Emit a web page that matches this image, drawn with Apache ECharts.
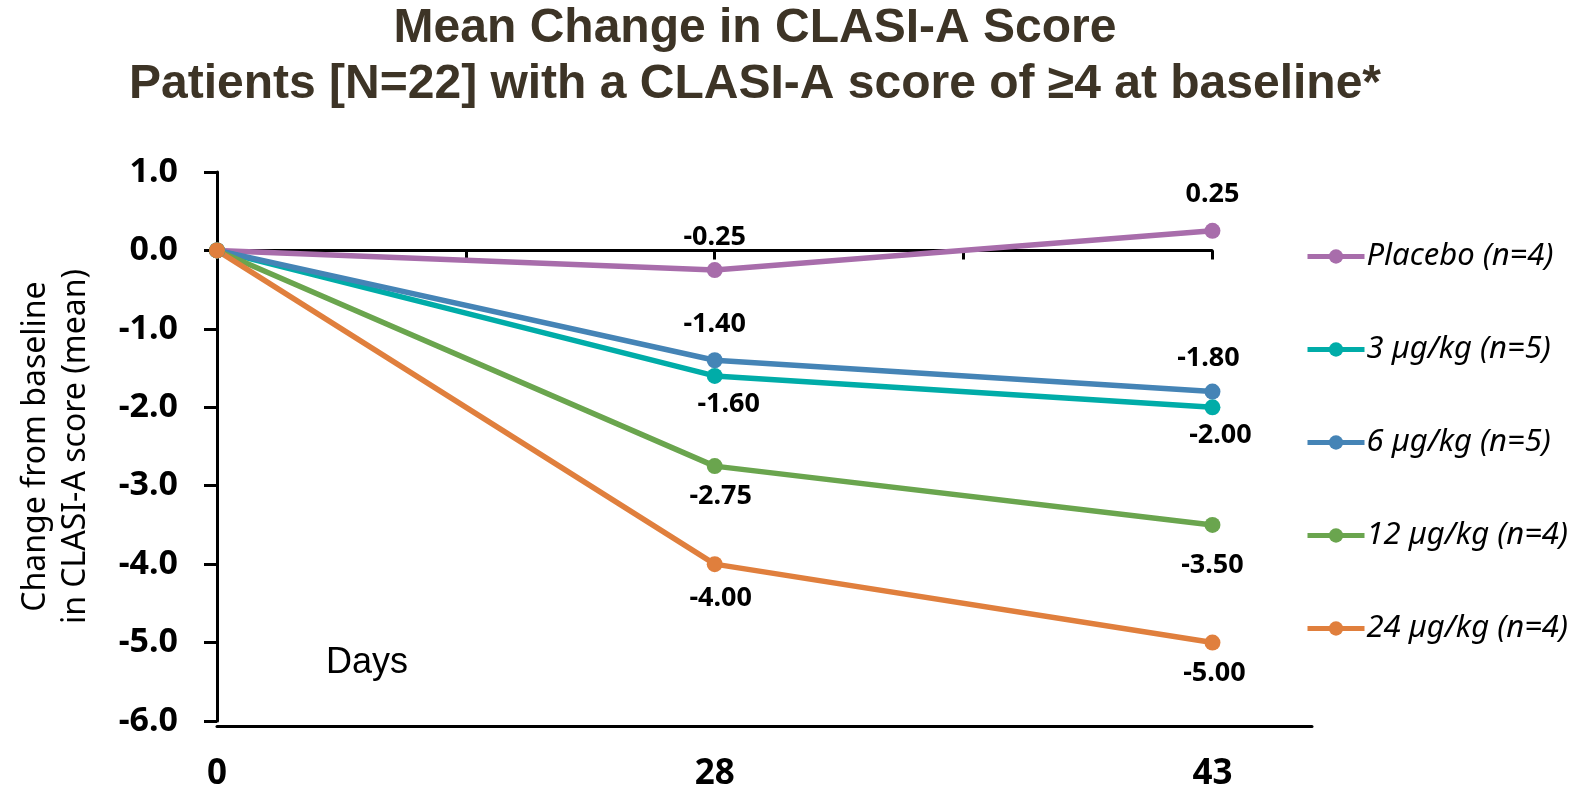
<!DOCTYPE html>
<html>
<head>
<meta charset="utf-8">
<script src="https://cdn.jsdelivr.net/npm/echarts@6/dist/echarts.min.js"></script>
<style>
html,body{margin:0;padding:0;background:#fff;}
#chart{width:1576px;height:793px;}
</style>
</head>
<body>
<div id="chart"></div>
<script>
// ---- data ----
const dayLabels = ['0', '28', '43'];
const seriesNames = ['Placebo (n=4)', '3 \u00b5g/kg (n=5)', '6 \u00b5g/kg (n=5)', '12 \u00b5g/kg (n=4)', '24 \u00b5g/kg (n=4)'];
const placebo = [0, -0.25, 0.25];
const dose3 = [0, -1.60, -2.00];
const dose6 = [0, -1.40, -1.80];
const dose12 = [0, -2.75, -3.50];
const dose24 = [0, -4.00, -5.00];
const yTicks = [-6, -5, -4, -3, -2, -1, 0, 1];

// ---- styling ----
const colors = ['#a86dab', '#00aca8', '#4584b6', '#6aa54e', '#e07f3d'];
const labelPos = [
  ['top', 'top'],
  ['bottom', 'bottom'],
  ['top', 'top'],
  ['bottom', 'bottom'],
  ['bottom', 'bottom']
];
const labelDist = [
  [11, 15],
  [7, 7],
  [14, 12],
  [9, 19],
  [13, 9]
];
const labelShiftX = [
  [0, 0],
  [14, 8],
  [0, -4],
  [6, 0],
  [6, 2]
];
const allValues = [placebo, dose3, dose6, dose12, dose24];

const chart = echarts.init(document.getElementById('chart'));

const series = allValues.map((vals, si) => ({
  name: seriesNames[si],
  type: 'line',
  xAxisIndex: 0,
  yAxisIndex: 0,
  data: vals.map((v, i) => ({
    value: [i, v],
    label: {
      show: i > 0,
      position: labelPos[si][i - 1] || 'top',
      distance: labelDist[si][i - 1] || 10,
      offset: [labelShiftX[si][i - 1] || 0, 0]
    }
  })),
  symbol: 'circle',
  symbolSize: 16,
  lineStyle: { width: 5.5, color: colors[si] },
  itemStyle: { color: colors[si] },
  label: {
    fontFamily: 'Noto Sans',
    fontWeight: 'bold',
    fontSize: 27,
    color: '#000',
    formatter: p => p.value[1].toFixed(2)
  },
  emphasis: { disabled: true },
  z: 3
}));

const option = {
  backgroundColor: '#fff',
  animation: false,
  title: {
    text: 'Mean Change in CLASI-A Score\nPatients [N=22] with a CLASI-A score of \u22654 at baseline*',
    left: 750,
    top: -4,
    textAlign: 'center',
    textStyle: {
      fontFamily: 'Liberation Sans',
      fontWeight: 'bold',
      fontSize: 48,
      lineHeight: 56,
      color: '#3d3426'
    }
  },
  legend: {
    orient: 'vertical',
    left: 1300,
    top: 236,
    itemWidth: 57,
    itemHeight: 18,
    itemGap: 62,
    lineStyle: { width: 5 },
    textStyle: {
      fontFamily: 'Noto Sans',
      fontStyle: 'italic',
      fontSize: 31,
      color: '#000',
      padding: [0, 0, 0, -3]
    },
    data: seriesNames
  },
  graphic: [{
    type: 'text',
    left: 326,
    top: 645,
    style: {
      text: 'Days',
      fontFamily: 'Liberation Sans',
      fontSize: 36,
      fill: '#000'
    }
  }],
  grid: [
    { left: 217, top: 172, width: 1095, bottom: 72 },
    { left: 217, top: 172, width: 995, bottom: 72 }
  ],
  xAxis: [
    {
      type: 'value',
      gridIndex: 0,
      min: 0,
      max: 2.2,
      interval: 1,
      offset: 5,
      axisLine: { onZero: false, lineStyle: { color: '#000', width: 3 } },
      axisTick: { show: false },
      splitLine: { show: false },
      axisLabel: {
        margin: 31,
        fontFamily: 'Noto Sans',
        fontWeight: 'bold',
        fontSize: 35,
        color: '#000',
        formatter: v => (Number.isInteger(v) && dayLabels[v] !== undefined) ? dayLabels[v] : ''
      }
    },
    {
      type: 'value',
      gridIndex: 1,
      min: 0,
      max: 2,
      interval: 0.5,
      axisLine: { onZero: true, onZeroAxisIndex: 1, lineStyle: { color: '#000', width: 3 } },
      axisTick: { show: true, length: 9, lineStyle: { color: '#000', width: 3 } },
      axisLabel: { show: false },
      splitLine: { show: false }
    }
  ],
  yAxis: [
    {
      type: 'value',
      gridIndex: 0,
      min: yTicks[0],
      max: yTicks[yTicks.length - 1],
      interval: 1,
      name: 'Change from baseline\nin CLASI-A score (mean)',
      nameLocation: 'middle',
      nameGap: 121,
      nameTextStyle: {
        fontFamily: 'Noto Sans',
        fontSize: 32,
        lineHeight: 40,
        color: '#000'
      },
      axisLine: { show: true, lineStyle: { color: '#000', width: 3 } },
      axisTick: { show: true, length: 13, lineStyle: { color: '#000', width: 3 } },
      splitLine: { show: false },
      axisLabel: {
        margin: 39,
        fontFamily: 'Noto Sans',
        fontWeight: 'bold',
        fontSize: 34,
        color: '#000',
        formatter: v => v.toFixed(1)
      }
    },
    {
      type: 'value',
      gridIndex: 1,
      min: yTicks[0],
      max: yTicks[yTicks.length - 1],
      interval: 1,
      show: false
    }
  ],
  series: series
};

chart.setOption(option);
</script>
</body>
</html>
